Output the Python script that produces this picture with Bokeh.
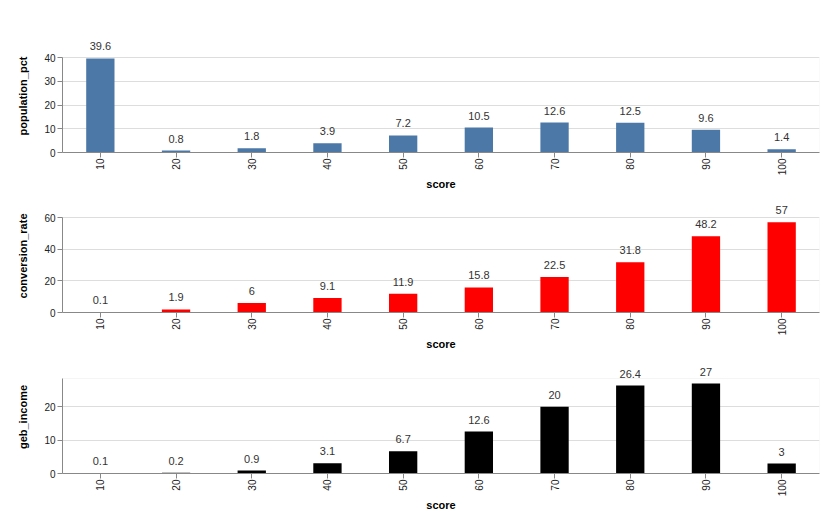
import math
from bokeh.plotting import figure
from bokeh.layouts import column
from bokeh.models import (ColumnDataSource, LabelSet, Range1d, FixedTicker,
                          FactorRange, BoxAnnotation)
from bokeh.core.properties import value
from bokeh.embed import file_html
from bokeh.resources import INLINE

score = ["10", "20", "30", "40", "50", "60", "70", "80", "90", "100"]
population_pct = [39.6, 0.8, 1.8, 3.9, 7.2, 10.5, 12.6, 12.5, 9.6, 1.4]
conversion_rate = [0.1, 1.9, 6, 9.1, 11.9, 15.8, 22.5, 31.8, 48.2, 57]
geb_income = [0.1, 0.2, 0.9, 3.1, 6.7, 12.6, 20, 26.4, 27, 3]

pop_ticks = [0, 10, 20, 30, 40]
conv_ticks = [0, 20, 40, 60]
geb_ticks = [0, 10, 20]

FONT = "Liberation Sans"
VIEW_H = 95      # height of the visible chart box (px)
EXTRA = 18       # headroom above the box for value labels (px)


def make_panel(name, vals, color, ymax, ticks, height, btop, bbottom):
    src = ColumnDataSource(dict(score=score, val=vals,
                                label=[f"{v:g}" for v in vals]))
    yend = ymax * (VIEW_H + EXTRA) / VIEW_H
    p = figure(width=840, height=height, x_range=FactorRange(*score),
               y_range=Range1d(0, yend), output_backend="svg",
               toolbar_location=None, min_border_left=62, min_border_right=21,
               min_border_top=btop, min_border_bottom=bbottom)
    p.x_range.range_padding = 0
    p.vbar(x="score", top="val", width=0.374, source=src,
           fill_color=color, line_color=None)
    labels = LabelSet(x="score", y="val", text="label", source=src,
                      text_align="center", text_baseline="bottom", y_offset=8,
                      text_font=value(FONT), text_font_size="11px",
                      text_color="#333333")
    p.add_layout(labels)
    # the visible view box outline (0 .. ymax)
    p.add_layout(BoxAnnotation(bottom=0, top=ymax, fill_alpha=0,
                               line_color="#dddddd", line_width=1,
                               level="underlay"))

    p.background_fill_color = "white"
    p.border_fill_color = "white"
    p.outline_line_color = None
    p.xgrid.visible = False
    p.ygrid.grid_line_color = "#dddddd"
    p.yaxis.ticker = FixedTicker(ticks=ticks)
    p.yaxis.bounds = (0, ymax)

    for ax in (p.xaxis[0], p.yaxis[0]):
        ax.axis_line_color = "#888888"
        ax.major_tick_line_color = "#888888"
        ax.minor_tick_line_color = None
        ax.major_tick_in = 0
        ax.major_tick_out = 5
        ax.major_label_text_font = FONT
        ax.major_label_text_font_size = "10px"
        ax.major_label_text_color = "#222222"
        ax.axis_label_text_font = FONT
        ax.axis_label_text_font_size = "11px"
        ax.axis_label_text_font_style = "bold"
        ax.axis_label_text_color = "#000000"

    p.xaxis.axis_label = "score"
    p.xaxis.major_label_orientation = math.pi / 2
    p.xaxis.major_label_standoff = 1
    p.xaxis.axis_label_standoff = 0
    p.yaxis.axis_label = name
    p.yaxis.major_label_standoff = 2
    p.yaxis.axis_label_standoff = 12
    return p


p1 = make_panel("population_pct", population_pct, "#4c78a8", 40, pop_ticks,
                198, 57 - EXTRA, 46)
p2 = make_panel("conversion_rate", conversion_rate, "#ff0000", 60, conv_ticks,
                161, 19 - EXTRA, 47)
p3 = make_panel("geb_income", geb_income, "#000000", 28.5, geb_ticks,
                173, 19 - EXTRA, 59)

layout = column(p1, p2, p3)
open("out.html", "w").write(file_html(layout, INLINE))
